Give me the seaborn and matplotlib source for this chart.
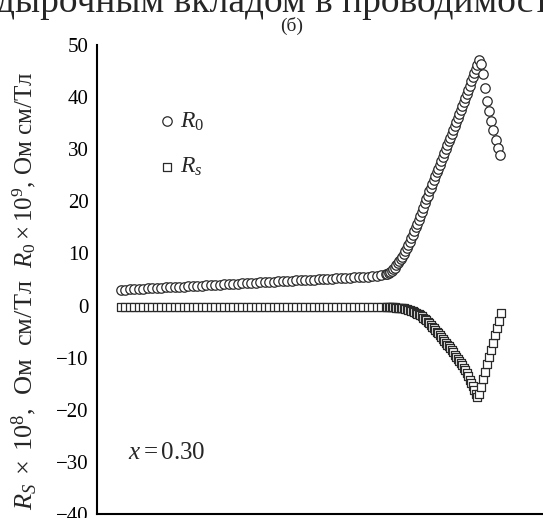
import matplotlib
matplotlib.use("Agg")
import matplotlib.pyplot as plt
import seaborn as sns
import pandas as pd

# ---- data ----
t_main = [-7, -4, -1, 2, 5, 8, 11, 14, 17, 20, 23, 26, 29, 32, 35, 38, 41, 44, 47, 50,
          53, 56, 59, 62, 65, 68, 71, 74, 77, 80, 83, 86, 89, 92, 95, 98, 101, 104, 107, 110,
          113, 116, 119, 122, 125, 128, 131, 134, 137, 140, 143, 146, 149, 152, 155, 158, 161, 164, 167, 170,
          171, 172, 173, 174, 175, 176, 177, 178, 179, 180, 181, 182, 183, 184, 185, 186, 187, 188, 189, 190,
          191, 192, 193, 194, 195, 196, 197, 198, 199, 200, 201, 202, 203, 204, 205, 206, 207, 208, 209, 210,
          211, 212, 213, 214, 215, 216, 217, 218, 219, 220, 221, 222, 223, 224, 225, 226, 227, 228, 229, 230, 231]

r0_main = [3.00, 3.05, 3.09, 3.14, 3.19, 3.23, 3.28, 3.33, 3.37, 3.42, 3.47, 3.51, 3.56, 3.60, 3.65, 3.70, 3.74, 3.79, 3.84, 3.88,
           3.93, 3.98, 4.02, 4.07, 4.12, 4.16, 4.21, 4.26, 4.30, 4.35, 4.40, 4.44, 4.49, 4.53, 4.58, 4.63, 4.67, 4.72, 4.77, 4.81,
           4.86, 4.91, 4.95, 5.00, 5.05, 5.09, 5.14, 5.19, 5.23, 5.28, 5.33, 5.37, 5.42, 5.47, 5.51, 5.56, 5.61, 5.70, 5.82, 6.00,
           6.15, 6.3, 6.5, 6.7, 7.0, 7.3, 7.7, 8.1, 8.5, 8.9, 9.4, 9.9, 10.5, 11.0, 11.6, 12.2, 12.9, 13.6, 14.3, 15.0,
           15.7, 16.5, 17.2, 18.0, 18.8, 19.6, 20.4, 21.1, 21.9, 22.6, 23.4, 24.1, 24.8, 25.6, 26.3, 27.0, 27.8, 28.5, 29.3, 30.0,
           30.8, 31.5, 32.2, 33.0, 33.7, 34.5, 35.2, 36.0, 36.7, 37.5, 38.3, 39.1, 39.9, 40.6, 41.4, 42.2, 43.0, 43.8, 44.6, 45.4, 46.2]

rs_main = [-0.2, -0.2, -0.2, -0.2, -0.2, -0.2, -0.2, -0.2, -0.2, -0.2, -0.2, -0.2, -0.2, -0.2, -0.2, -0.2, -0.2, -0.2, -0.2, -0.2,
           -0.2, -0.2, -0.2, -0.2, -0.2, -0.2, -0.2, -0.2, -0.2, -0.2, -0.2, -0.2, -0.2, -0.2, -0.2, -0.2, -0.2, -0.2, -0.2, -0.2,
           -0.2, -0.2, -0.2, -0.2, -0.2, -0.2, -0.2, -0.2, -0.2, -0.2, -0.25, -0.25, -0.25, -0.25, -0.25, -0.25, -0.25, -0.3, -0.3, -0.3,
           -0.3, -0.3, -0.3, -0.3, -0.35, -0.35, -0.4, -0.4, -0.4, -0.45, -0.5, -0.55, -0.6, -0.7, -0.8, -0.9, -1.0, -1.1, -1.25, -1.4,
           -1.55, -1.7, -1.85, -2.05, -2.3, -2.6, -2.85, -3.1, -3.4, -3.7, -4.05, -4.4, -4.7, -5.0, -5.35, -5.7, -6.05, -6.4, -6.8, -7.15,
           -7.5, -7.85, -8.2, -8.6, -9.0, -9.4, -9.8, -10.2, -10.6, -11.1, -11.5, -12.0, -12.45, -13.0, -13.6, -14.2, -14.8, -15.5, -16.2, -16.9, -17.6]

t_r0_tail = [232, 233.3, 234.7, 236, 237.3, 238.7, 240, 241.3, 243.3, 244.7, 246]
r0_tail = [47.2, 46.3, 44.5, 41.7, 39.3, 37.4, 35.5, 33.6, 31.7, 30.3, 28.8]

t_rs_tail = [232, 233.3, 234.7, 236, 237.3, 238.7, 240, 241.3, 242.7, 244, 245.3, 246.7]
rs_tail = [-17.0, -15.6, -14.1, -12.7, -11.3, -9.9, -8.5, -7.1, -5.7, -4.3, -2.9, -1.4]

y_ticks = [-40, -30, -20, -10, 0, 10, 20, 30, 40, 50]
x_ticks = [0, 50, 100, 150, 200, 250]

# ---- style ----
sns.set_style("white")
plt.rcParams['font.family'] = ['Liberation Serif', 'DejaVu Serif']
plt.rcParams['mathtext.fontset'] = 'custom'
plt.rcParams['mathtext.rm'] = 'Liberation Serif'
plt.rcParams['mathtext.it'] = 'Liberation Serif:italic'
plt.rcParams['axes.unicode_minus'] = True

fig = plt.figure(figsize=(5.43, 5.18), dpi=100)
ax = fig.add_axes([97/543, 4/518, 446/543, 469/518])

df_r0 = pd.DataFrame({'T': t_main + t_r0_tail, 'R': r0_main + r0_tail})
df_rs = pd.DataFrame({'T': t_main + t_rs_tail, 'R': rs_main + rs_tail})

edge = '#2a2a2a'
sns.scatterplot(data=df_r0, x='T', y='R', marker='o', s=46, color='white',
                edgecolor=edge, linewidth=0.9, label=r'$R_0$', ax=ax, zorder=3)
sns.scatterplot(data=df_rs, x='T', y='R', marker='s', s=40, color='white',
                edgecolor=edge, linewidth=0.9, label=r'$R_s$', ax=ax, zorder=3)

ax.set_xlim(-22.67, 274.67)
ax.set_ylim(-40, 50)
ax.set_yticks(y_ticks)
ax.set_yticklabels([('\u2212' + str(-v)) if v < 0 else str(v) for v in y_ticks])
ax.set_xticks(x_ticks)
ax.set_xticklabels([])
ax.set_xlabel('')
ax.set_ylabel('')
for s in ['top', 'right']:
    ax.spines[s].set_visible(False)
for s in ['left', 'bottom']:
    ax.spines[s].set_linewidth(1.5)
    ax.spines[s].set_color('black')
ax.tick_params(axis='both', direction='in', length=6, width=1.3, colors='black',
               labelsize=15, pad=6)
ax.tick_params(axis='x', length=7)

leg = ax.legend(loc='upper left', bbox_to_anchor=(0.105, 0.886), frameon=False,
                fontsize=17, labelspacing=1.0, handletextpad=0.05, borderpad=0,
                handlelength=1.0)

ax.text(0.07, 0.13, r'$x = 0.30$', transform=ax.transAxes, fontsize=18,
        va='center', ha='left')

# y labels (two halves)
fig.text(24/543, 1 - 72/518, r'$R_0 \times 10^9$, Ом см/Тл', rotation=90,
         ha='center', va='top', fontsize=18)
fig.text(24/543, 1 - 279/518, r'$R_S\;\times\;10^8$,  Ом  см/Тл', rotation=90,
         ha='center', va='top', fontsize=19)

# panel label and page text fragment
fig.text(292/543, 1 - 26/518, '(б)', ha='center', va='center', fontsize=14)
fig.text(-0.008, 1 - 11.5/518, 'дырочным вкладом в проводимост', ha='left',
         va='baseline', fontsize=27)

fig.savefig('out.png', dpi=100)
